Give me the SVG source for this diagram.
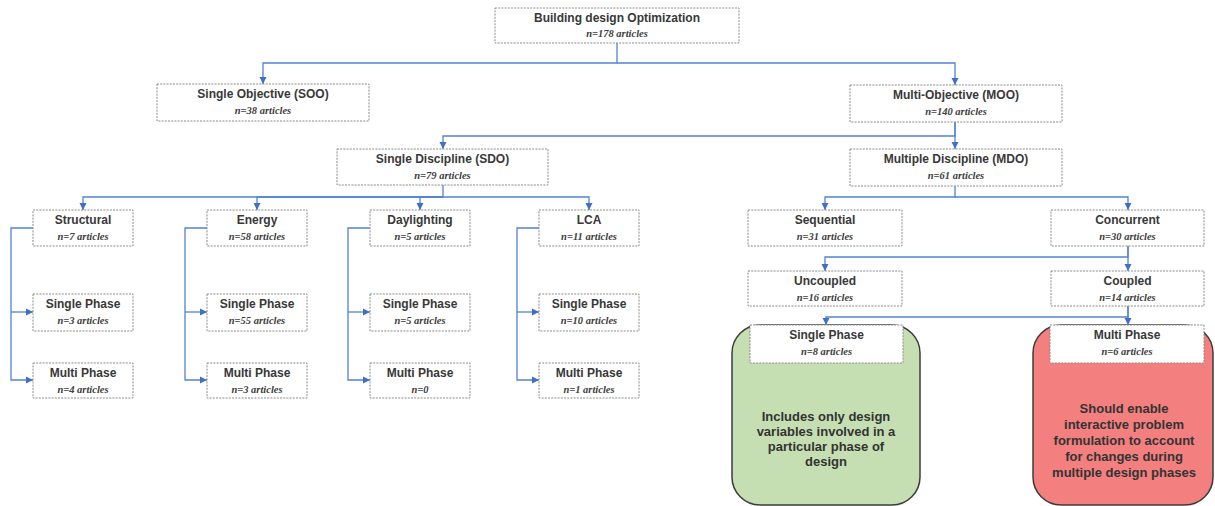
<svg xmlns="http://www.w3.org/2000/svg" width="1215" height="506" viewBox="0 0 1215 506">
  <style>
    .box { fill: #ffffff; stroke: #8a8a8a; stroke-width: 1; stroke-dasharray: 2 1.2; }
    .title { font-family: "Liberation Sans", Arial, sans-serif; font-weight: bold; font-size: 12px; fill: #383838; text-anchor: middle; }
    .sub { font-family: "Liberation Serif", "Times New Roman", serif; font-weight: bold; font-style: italic; font-size: 10.5px; fill: #404040; text-anchor: middle; }
    .note { font-family: "Liberation Sans", Arial, sans-serif; font-weight: bold; font-size: 13px; fill: #333333; text-anchor: middle; }
    .link { fill: none; stroke: #5282d4; stroke-width: 1.3; }
    .arrow { marker-end: url(#head); }
  </style>
  <defs>
    <marker id="head" markerUnits="userSpaceOnUse" markerWidth="8" markerHeight="8" refX="7" refY="4" orient="auto">
      <path d="M0,0.5 L7,4 L0,7.5 Z" fill="#3f6fc6"/>
    </marker>
  </defs>

  <rect width="1215" height="506" fill="#ffffff"/>

  <!-- phase panels -->
  <g id="panel-single">
    <rect x="732" y="325" width="188" height="180" rx="28" ry="28" fill="#c6dfb2" stroke="#3c3c3c" stroke-width="1.5"/>
    <text class="note" x="826" y="421">Includes only design</text>
    <text class="note" x="826" y="436">variables involved in a</text>
    <text class="note" x="826" y="451">particular phase of</text>
    <text class="note" x="826" y="466">design</text>
  </g>
  <g id="panel-multi">
    <rect x="1033" y="325" width="180" height="180" rx="28" ry="28" fill="#f47f7f" stroke="#3c3c3c" stroke-width="1.5"/>
    <text class="note" x="1124" y="413">Should enable</text>
    <text class="note" x="1124" y="429">interactive problem</text>
    <text class="note" x="1124" y="445">formulation to account</text>
    <text class="note" x="1124" y="461">for changes during</text>
    <text class="note" x="1124" y="477">multiple design phases</text>
  </g>

  <!-- connectors -->
  <g id="connectors">
    <path class="link arrow" d="M617,43 V63 H263 V84"/>
    <path class="link arrow" d="M617,63 H955 V85"/>
    <path class="link arrow" d="M955,122 V136 H443 V149"/>
    <path class="link arrow" d="M955,122 V149"/>
    <path class="link arrow" d="M443,185 V197 H83 V210"/>
    <path class="link arrow" d="M443,197 H257 V210"/>
    <path class="link arrow" d="M443,197 H420 V210"/>
    <path class="link arrow" d="M443,197 H589 V210"/>
    <path class="link arrow" d="M955,186 V197 H825 V210"/>
    <path class="link arrow" d="M955,197 H1128 V210"/>
    <path class="link arrow" d="M1128,246 V257 H825 V271"/>
    <path class="link arrow" d="M1128,246 V271"/>
    <path class="link arrow" d="M1128,306 V317 H826 V325"/>
    <path class="link arrow" d="M1128,306 V325"/>
    <!-- side brackets of the discipline columns -->
    <path class="link arrow" d="M33,228 H11 V380 H33"/>
    <path class="link arrow" d="M11,312 H33"/>
    <path class="link arrow" d="M207,228 H185 V380 H207"/>
    <path class="link arrow" d="M185,312 H207"/>
    <path class="link arrow" d="M370,228 H348 V380 H370"/>
    <path class="link arrow" d="M348,312 H370"/>
    <path class="link arrow" d="M539,228 H517 V380 H539"/>
    <path class="link arrow" d="M517,312 H539"/>
  </g>

  <!-- nodes -->
  <g id="n-root">
    <rect class="box" x="495" y="8" width="244" height="35"/>
    <text class="title" x="617" y="21.5">Building design Optimization</text>
    <text class="sub" x="617" y="36.5">n=178 articles</text>
  </g>
  <g id="n-soo">
    <rect class="box" x="157" y="84" width="212" height="37"/>
    <text class="title" x="263" y="98">Single Objective (SOO)</text>
    <text class="sub" x="263" y="114">n=38 articles</text>
  </g>
  <g id="n-moo">
    <rect class="box" x="850" y="85" width="212" height="37"/>
    <text class="title" x="956" y="99">Multi-Objective (MOO)</text>
    <text class="sub" x="956" y="115">n=140 articles</text>
  </g>
  <g id="n-sdo">
    <rect class="box" x="337" y="149" width="211" height="36"/>
    <text class="title" x="442.5" y="163">Single Discipline (SDO)</text>
    <text class="sub" x="442.5" y="179">n=79 articles</text>
  </g>
  <g id="n-mdo">
    <rect class="box" x="850" y="149" width="212" height="37"/>
    <text class="title" x="956" y="163">Multiple Discipline (MDO)</text>
    <text class="sub" x="956" y="179">n=61 articles</text>
  </g>

  <g id="n-structural">
    <rect class="box" x="33" y="210" width="100" height="36"/>
    <text class="title" x="83" y="223.5">Structural</text>
    <text class="sub" x="83" y="239.5">n=7 articles</text>
  </g>
  <g id="n-structural-single">
    <rect class="box" x="33" y="294" width="100" height="37"/>
    <text class="title" x="83" y="307.5">Single Phase</text>
    <text class="sub" x="83" y="324">n=3 articles</text>
  </g>
  <g id="n-structural-multi">
    <rect class="box" x="33" y="363" width="100" height="35"/>
    <text class="title" x="83" y="376.5">Multi Phase</text>
    <text class="sub" x="83" y="392.5">n=4 articles</text>
  </g>

  <g id="n-energy">
    <rect class="box" x="207" y="210" width="100" height="36"/>
    <text class="title" x="257" y="223.5">Energy</text>
    <text class="sub" x="257" y="239.5">n=58 articles</text>
  </g>
  <g id="n-energy-single">
    <rect class="box" x="207" y="294" width="100" height="37"/>
    <text class="title" x="257" y="307.5">Single Phase</text>
    <text class="sub" x="257" y="324">n=55 articles</text>
  </g>
  <g id="n-energy-multi">
    <rect class="box" x="207" y="363" width="100" height="35"/>
    <text class="title" x="257" y="376.5">Multi Phase</text>
    <text class="sub" x="257" y="392.5">n=3 articles</text>
  </g>

  <g id="n-daylighting">
    <rect class="box" x="370" y="210" width="100" height="36"/>
    <text class="title" x="420" y="223.5">Daylighting</text>
    <text class="sub" x="420" y="239.5">n=5 articles</text>
  </g>
  <g id="n-daylighting-single">
    <rect class="box" x="370" y="294" width="100" height="37"/>
    <text class="title" x="420" y="307.5">Single Phase</text>
    <text class="sub" x="420" y="324">n=5 articles</text>
  </g>
  <g id="n-daylighting-multi">
    <rect class="box" x="370" y="363" width="100" height="35"/>
    <text class="title" x="420" y="376.5">Multi Phase</text>
    <text class="sub" x="420" y="392.5">n=0</text>
  </g>

  <g id="n-lca">
    <rect class="box" x="539" y="210" width="100" height="36"/>
    <text class="title" x="589" y="223.5">LCA</text>
    <text class="sub" x="589" y="239.5">n=11 articles</text>
  </g>
  <g id="n-lca-single">
    <rect class="box" x="539" y="294" width="100" height="37"/>
    <text class="title" x="589" y="307.5">Single Phase</text>
    <text class="sub" x="589" y="324">n=10 articles</text>
  </g>
  <g id="n-lca-multi">
    <rect class="box" x="539" y="363" width="100" height="35"/>
    <text class="title" x="589" y="376.5">Multi Phase</text>
    <text class="sub" x="589" y="392.5">n=1 articles</text>
  </g>

  <g id="n-sequential">
    <rect class="box" x="748" y="210" width="154" height="36"/>
    <text class="title" x="825" y="223.5">Sequential</text>
    <text class="sub" x="825" y="239.5">n=31 articles</text>
  </g>
  <g id="n-concurrent">
    <rect class="box" x="1051" y="210" width="153" height="36"/>
    <text class="title" x="1127.5" y="223.5">Concurrent</text>
    <text class="sub" x="1127.5" y="239.5">n=30 articles</text>
  </g>
  <g id="n-uncoupled">
    <rect class="box" x="748" y="271" width="154" height="35"/>
    <text class="title" x="825" y="284.5">Uncoupled</text>
    <text class="sub" x="825" y="300.5">n=16 articles</text>
  </g>
  <g id="n-coupled">
    <rect class="box" x="1051" y="271" width="153" height="35"/>
    <text class="title" x="1127.5" y="284.5">Coupled</text>
    <text class="sub" x="1127.5" y="300.5">n=14 articles</text>
  </g>
  <g id="n-single-phase">
    <rect class="box" x="750" y="325" width="153" height="38"/>
    <text class="title" x="826.5" y="339">Single Phase</text>
    <text class="sub" x="826.5" y="355">n=8 articles</text>
  </g>
  <g id="n-multi-phase">
    <rect class="box" x="1050" y="325" width="154" height="38"/>
    <text class="title" x="1127" y="339">Multi Phase</text>
    <text class="sub" x="1127" y="355">n=6 articles</text>
  </g>
</svg>
